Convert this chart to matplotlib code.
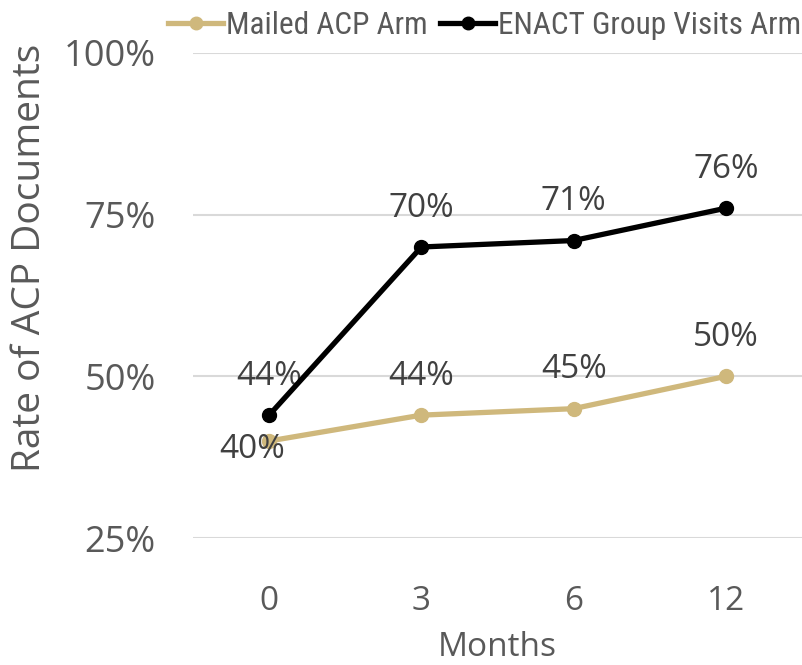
import matplotlib
matplotlib.use("Agg")
import matplotlib.pyplot as plt
from matplotlib import font_manager
from matplotlib.ticker import PercentFormatter

plt.rcParams['font.family'] = ['Open Sans', 'DejaVu Sans']

months = ["0", "3", "6", "12"]
mailed = [0.40, 0.44, 0.45, 0.50]
enact = [0.44, 0.70, 0.71, 0.76]
yticks = [0.25, 0.50, 0.75, 1.00]

gold = "#CFB87C"
black = "#000000"
gray = "#595959"
lblc = "#404040"

# pick a condensed font for the legend if one is installed
leg_family, leg_size = 'Open Sans', 17
for fam in ['Roboto Condensed', 'Liberation Sans Narrow', 'Open Sans Condensed']:
    try:
        font_manager.findfont(font_manager.FontProperties(family=fam), fallback_to_default=False)
        leg_family, leg_size = fam, 22.5
        break
    except Exception:
        pass

fig = plt.figure(figsize=(8.02, 6.65), dpi=100)
ax = fig.add_axes([193/802, 1-538/665, 609/802, (538-53)/665])

x = list(range(len(months)))
ax.plot(x, mailed, color=gold, lw=3.8, marker='o', ms=10, label="Mailed ACP Arm", zorder=3)
ax.plot(x, enact, color=black, lw=3.8, marker='o', ms=10, label="ENACT Group Visits Arm", zorder=4)

for i, v in enumerate(mailed):
    off = (-12, -6) if i == 0 else (0, 28)
    ax.annotate(f"{round(v*100)}%", (i, v), xytext=off, textcoords='offset points',
                ha='center', va='center', fontsize=24, color=lblc)
for i, v in enumerate(enact):
    ax.annotate(f"{round(v*100)}%", (i, v), xytext=(0, 28), textcoords='offset points',
                ha='center', va='center', fontsize=24, color=lblc)

ax.set_xlim(-0.5, len(months) - 0.5)
ax.set_ylim(0.25, 1.0)
ax.set_yticks(yticks)
ax.yaxis.set_major_formatter(PercentFormatter(1.0, decimals=0))
ax.set_xticks(x)
ax.set_xticklabels(months)
ax.grid(axis='y', color="#D9D9D9", lw=1.5)
ax.set_axisbelow(True)
for s in ax.spines.values():
    s.set_visible(False)
ax.tick_params(axis='both', length=0, labelsize=26, colors=gray)
ax.tick_params(axis='x', labelsize=24, pad=34)
ax.tick_params(axis='y', pad=27)
ax.set_xlabel("Months", fontsize=24, color=gray)
ax.xaxis.set_label_coords(0.5, (538 - 648) / 485)
ax.xaxis.label.set_va('center')
ax.set_ylabel("Rate of ACP Documents", fontsize=28, color=gray)
ax.yaxis.set_label_coords((30 - 193) / 609, (538 - 258) / 485)
ax.yaxis.label.set_va('center')

leg = fig.legend(loc='center left', bbox_to_anchor=(168/802, 1 - 25/665), ncol=2, frameon=False,
                 prop={'family': [leg_family, 'DejaVu Sans'], 'size': leg_size},
                 handlelength=1.76, handletextpad=0.1, columnspacing=0.4, markerscale=0.9,
                 labelcolor=gray, borderaxespad=0.0, borderpad=0.0)

fig.savefig("out.png", dpi=100)
